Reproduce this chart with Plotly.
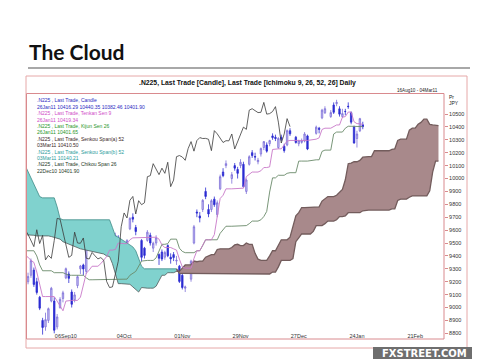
import pandas as pd
import plotly.graph_objects as go

# ---------------- data ----------------
holidays = ['2010-09-20', '2010-09-23', '2010-10-11', '2010-11-03', '2010-11-23',
            '2010-12-23', '2010-12-31', '2011-01-03', '2011-01-10']

opens = [9270, 9180, 9200, 9250, 9290, 9200, 9080, 8900, 8850, 8900,
         9050, 9050, 8850, 9000, 9070, 9230, 9260, 9120, 9060, 9170,
         9300, 9330, 9280, 9560, 9560, 9620, 9620, 9480, 9570, 9560,
         9530, 9540, 9380, 9420, 9400, 9610, 9700, 9620, 9520, 9460,
         9520, 9560, 9460, 9500, 9410, 9430, 9390, 9480, 9390, 9410,
         9360, 9320, 9250, 9150, 9220, 9500, 9740, 9710, 9760, 9900,
         9760, 9760, 9840, 9720, 9920, 10050, 10100, 10000, 10100, 10070,
         10100, 10110, 9900, 10110, 10200, 10170, 10130, 10190, 10240, 10260,
         10270, 10330, 10320, 10240, 10320, 10250, 10260, 10370, 10320, 10270,
         10280, 10290, 10330, 10350, 10390, 10470, 10510, 10480, 10570, 10580,
         10540, 10480, 10520, 10560, 10510, 10400, 10310, 10370, 10416]
highs = [9290, 9240, 9270, 9380, 9310, 9230, 9090, 8920, 8960, 9000,
         9160, 9080, 8950, 9080, 9130, 9310, 9280, 9140, 9120, 9250,
         9330, 9340, 9530, 9580, 9640, 9640, 9640, 9510, 9620, 9570,
         9580, 9560, 9420, 9440, 9530, 9700, 9730, 9640, 9530, 9470,
         9600, 9580, 9510, 9560, 9420, 9450, 9440, 9490, 9420, 9430,
         9400, 9330, 9260, 9170, 9370, 9640, 9760, 9740, 9840, 9930,
         9800, 9840, 9860, 9830, 10030, 10080, 10140, 10050, 10120, 10090,
         10150, 10130, 10000, 10180, 10220, 10200, 10160, 10240, 10290, 10280,
         10300, 10350, 10340, 10320, 10340, 10270, 10380, 10390, 10330, 10300,
         10310, 10360, 10340, 10410, 10400, 10540, 10560, 10530, 10590, 10610,
         10560, 10540, 10540, 10590, 10520, 10410, 10370, 10470, 10440]
lows = [9170, 9130, 9180, 9230, 9160, 9100, 8980, 8790, 8820, 8880,
        9040, 8800, 8830, 8990, 9040, 9220, 9190, 9000, 9040, 9150,
        9260, 9250, 9260, 9480, 9540, 9560, 9530, 9410, 9550, 9470,
        9500, 9360, 9350, 9360, 9380, 9600, 9660, 9560, 9360, 9380,
        9510, 9480, 9430, 9480, 9330, 9360, 9370, 9390, 9340, 9360,
        9330, 9190, 9140, 9120, 9200, 9490, 9700, 9660, 9740, 9840,
        9700, 9740, 9780, 9700, 9910, 10010, 10080, 9960, 10060, 10000,
        10080, 9930, 9880, 10100, 10160, 10140, 10110, 10170, 10220, 10200,
        10250, 10300, 10290, 10230, 10290, 10200, 10250, 10330, 10270, 10250,
        10270, 10280, 10220, 10340, 10350, 10460, 10500, 10470, 10500, 10560,
        10480, 10470, 10490, 10540, 10420, 10270, 10240, 10360, 10382]
closes = [9197, 9162, 9241, 9363, 9179, 9117, 8995, 8845, 8906, 8991,
          9149, 8824, 8927, 9063, 9114, 9301, 9226, 9025, 9098, 9239,
          9322, 9299, 9517, 9510, 9626, 9602, 9567, 9472, 9603, 9496,
          9559, 9369, 9404, 9381, 9519, 9691, 9685, 9589, 9389, 9404,
          9584, 9500, 9498, 9539, 9382, 9376, 9427, 9401, 9377, 9387,
          9366, 9202, 9155, 9160, 9359, 9626, 9733, 9694, 9831, 9861,
          9725, 9828, 9797, 9812, 10014, 10022, 10115, 10030, 10080, 10040,
          10126, 9937, 9988, 10169, 10178, 10167, 10141, 10232, 10286, 10212,
          10294, 10317, 10310, 10311, 10304, 10216, 10371, 10346, 10279, 10293,
          10292, 10345, 10229, 10398, 10381, 10530, 10541, 10511, 10513, 10590,
          10499, 10503, 10519, 10557, 10437, 10275, 10345, 10464, 10402]

tenkan = [9415, 9400, 9390, 9365, 9350, 9275, 9180, 9085, 9085, 9085,
          9085, 9085, 9050, 9010, 8975, 9050, 9055, 9055, 9055, 9055,
          9080, 9165, 9265, 9290, 9320, 9320, 9340, 9395, 9445, 9445,
          9450, 9500, 9495, 9495, 9495, 9525, 9540, 9540, 9540, 9540,
          9540, 9545, 9545, 9545, 9530, 9485, 9465, 9465, 9465, 9455,
          9445, 9375, 9315, 9305, 9305, 9380, 9440, 9440, 9480, 9525,
          9525, 9525, 9565, 9710, 9845, 9870, 9920, 9920, 9920, 9920,
          9925, 9925, 10015, 10030, 10050, 10050, 10050, 10060, 10085, 10085,
          10090, 10225, 10230, 10230, 10230, 10260, 10290, 10295, 10295, 10295,
          10295, 10295, 10295, 10305, 10315, 10380, 10390, 10390, 10405, 10415,
          10415, 10475, 10480, 10515, 10515, 10440, 10425, 10425, 10419]
kijun = [9440, 9440, 9440, 9440, 9440, 9400, 9330, 9285, 9285, 9285,
         9285, 9270, 9270, 9270, 9270, 9260, 9250, 9250, 9250, 9250,
         9250, 9250, 9230, 9215, 9215, 9215, 9215, 9215, 9215, 9215,
         9215, 9215, 9215, 9220, 9220, 9250, 9265, 9280, 9360, 9365,
         9365, 9365, 9365, 9385, 9440, 9490, 9490, 9495, 9530, 9530,
         9530, 9460, 9435, 9425, 9425, 9425, 9440, 9440, 9480, 9525,
         9525, 9525, 9525, 9525, 9575, 9600, 9630, 9630, 9630, 9630,
         9635, 9635, 9635, 9650, 9670, 9670, 9670, 9680, 9705, 9745,
         9895, 10005, 10005, 10025, 10025, 10025, 10040, 10045, 10045, 10135,
         10135, 10135, 10135, 10145, 10145, 10210, 10220, 10220, 10345, 10360,
         10360, 10360, 10390, 10405, 10405, 10405, 10405, 10405, 10402]

# Senkou spans, one value per weekday from 16Aug10 to 03Mar11
span_a = [9565, 9565, 9560, 9560, 9560, 9555, 9555, 9560, 9560, 9555, 9550, 9545,
          9540, 9530, 9510, 9500, 9490, 9480, 9470, 9460, 9455, 9450, 9445, 9440, 9430, 9425,
          9420, 9420, 9415, 9400, 9395, 9340, 9255, 9185, 9185, 9185, 9185, 9180, 9160, 9140,
          9120, 9155, 9150, 9150, 9150, 9150, 9165, 9210, 9250, 9250, 9270,
          9270, 9270, 9280, 9280, 9305, 9330, 9330, 9330, 9360, 9355, 9360, 9360, 9390, 9400,
          9410, 9410, 9450, 9455, 9455, 9455, 9455, 9465, 9485, 9490, 9480,
          9480, 9500, 9490, 9490, 9420, 9375, 9365, 9365, 9365, 9400, 9440, 9440, 9480, 9525,
          9525, 9525, 9545, 9620, 9710, 9735, 9775, 9775, 9775, 9775, 9775,
          9780, 9780, 9825, 9840, 9860, 9860, 9860, 9870, 9895, 9915, 9990, 10115, 10120,
          10130, 10130, 10140, 10165, 10170, 10170, 10170, 10215, 10215, 10215, 10215, 10215,
          10215, 10225, 10230, 10295, 10305, 10305, 10305, 10375, 10390, 10390, 10420, 10435,
          10460, 10460, 10420, 10415, 10415, 10410]
span_b = [10150, 10100, 10050, 10000, 9950, 9900, 9860, 9850, 9850, 9850, 9850, 9850, 9780, 9690,
          9680, 9680, 9680, 9680, 9680, 9680, 9680, 9680, 9680, 9680, 9680, 9680, 9680, 9680,
          9680, 9680, 9680,
          9620, 9555, 9545, 9530, 9515, 9500, 9485, 9470, 9440, 9380, 9320,
          9300, 9300, 9300, 9300, 9300, 9300, 9300, 9300, 9300, 9300, 9300, 9300,
          9265, 9265, 9265, 9265, 9265, 9265, 9265, 9265, 9265, 9265, 9265, 9265, 9265,
          9265, 9265, 9265, 9265, 9265, 9265, 9265, 9265, 9265, 9265, 9265, 9265, 9265,
          9260, 9260, 9260, 9260, 9260, 9260, 9275, 9275, 9315, 9365, 9365, 9365, 9365,
          9380, 9510, 9540, 9570, 9570, 9570, 9570, 9590, 9635, 9635, 9635, 9650, 9670,
          9670, 9670, 9680, 9705, 9705, 9710, 9735, 9735, 9735, 9735, 9735, 9750,
          9755, 9755, 9755, 9755, 9755, 9755, 9755, 9755, 9755, 9765, 9765, 9830,
          9840, 9840, 9840, 9855, 9865, 9865, 9865, 9865, 9865, 9865, 9905, 10050,
          10135, 10135]

tick_dates = ['2010-09-06', '2010-10-04', '2010-11-01', '2010-11-29',
              '2010-12-27', '2011-01-24', '2011-02-21']
tick_text = ['06Sep10', '04Oct', '01Nov', '29Nov', '27Dec', '24Jan', '21Feb']
price_ticks = [8800, 8900, 9000, 9100, 9200, 9300, 9400, 9500, 9600,
               9700, 9800, 9900, 10000, 10100, 10200, 10300, 10400, 10500]
price_labels = ['8800', '8900', '9000', '9100', '9200', '9300', '9400', '9500', '9600',
                '9700', '9800', '9900', '10000', '10100', '10200', '10300', '10400', '10500']

legend_lines = [
    ('.N225 , Last Trade, Candle', '#2b2bbf'),
    ('26Jan11 10416.29 10440.35 10382.46 10401.90', '#2b2bbf'),
    ('.N225 , Last Trade, Tenkan Sen 9', '#d04cc8'),
    ('26Jan11 10419.34', '#d04cc8'),
    ('.N225 , Last Trade, Kijun Sen 26', '#2a962a'),
    ('26Jan11 10401.65', '#2a962a'),
    ('.N225 , Last Trade, Senkou Span(a) 52', '#3a2626'),
    ('03Mar11 10410.50', '#3a2626'),
    ('.N225 , Last Trade, Senkou Span(b) 52', '#2a9c9c'),
    ('03Mar11 10140.21', '#2a9c9c'),
    ('.N225 , Last Trade, Chikou Span 26', '#1f3a1f'),
    ('22Dec10 10401.90', '#1f3a1f'),
]

# ---------------- x positions (weekday calendar) ----------------
trade_days = [d for d in pd.bdate_range('2010-08-16', '2011-01-26')
              if d.strftime('%Y-%m-%d') not in holidays]
cloud_days = list(pd.bdate_range('2010-08-16', periods=len(span_a)))
chikou_days = [d - pd.offsets.BDay(25) for d in trade_days]

# ---------------- figure ----------------
W, H = 480, 360
L, R, T, B = 18, 436, 86, 331


def px(x):
    return (x - L) / (R - L)


def py(y):
    return (B - y) / (B - T)


TEAL = 'rgb(128,210,206)'
BROWN = 'rgb(168,137,139)'
fig = go.Figure()

# teal part of the cloud (span b above span a)
n1 = 55
fig.add_trace(go.Scatter(x=cloud_days[:n1], y=span_a[:n1], mode='lines',
                         line=dict(color='#505a5a', width=0.8), hoverinfo='skip'))
fig.add_trace(go.Scatter(x=cloud_days[:n1], y=span_b[:n1], mode='lines',
                         line=dict(color='#3f8a86', width=0.8), fill='tonexty',
                         fillcolor=TEAL, hoverinfo='skip'))
# brown part of the cloud (span a above span b)
n0 = 53
fig.add_trace(go.Scatter(x=cloud_days[n0:], y=span_b[n0:], mode='lines',
                         line=dict(color='#735c5c', width=1.3), hoverinfo='skip'))
fig.add_trace(go.Scatter(x=cloud_days[n0:], y=span_a[n0:], mode='lines',
                         line=dict(color='#735c5c', width=1.3), fill='tonexty',
                         fillcolor=BROWN, hoverinfo='skip'))

# kijun, tenkan, chikou
fig.add_trace(go.Scatter(x=trade_days, y=kijun, mode='lines',
                         line=dict(color='#6a8a6a', width=0.9)))
fig.add_trace(go.Scatter(x=trade_days, y=tenkan, mode='lines',
                         line=dict(color='#c878c8', width=0.9)))
fig.add_trace(go.Scatter(x=chikou_days, y=closes, mode='lines',
                         line=dict(color='#3a3a3a', width=0.8)))

fig.add_trace(go.Candlestick(
    x=trade_days, open=opens, high=highs, low=lows, close=closes,
    increasing=dict(line=dict(color='#7e70d8', width=0.8), fillcolor='#cbc4f3'),
    decreasing=dict(line=dict(color='#2c2cd2', width=0.8), fillcolor='#2c2cd2'),
    whiskerwidth=0))

shapes = [
    # outer chart frame
    dict(type='rect', xref='paper', yref='paper', x0=px(18), x1=px(459), y0=py(340), y1=py(68),
         line=dict(color='#e6a8a8', width=1)),
    # plot area border
    dict(type='rect', xref='paper', yref='paper', x0=px(18.5), x1=px(436), y0=py(331), y1=py(85.5),
         line=dict(color='#d98a8e', width=1)),
    # rule under page title
    dict(type='line', xref='paper', yref='paper', x0=px(20), x1=px(462), y0=py(60), y1=py(60),
         line=dict(color='#a8a8a8', width=2)),
    # logo box
    dict(type='rect', xref='paper', yref='paper', x0=px(365), x1=px(468), y0=py(351), y1=py(339),
         fillcolor='#6e6e6e', line=dict(width=0)),
]

ann = [
    dict(text='<b>The Cloud</b>', x=px(19), y=py(44), xanchor='left', yanchor='middle',
         font=dict(family='Lato', size=21, color='#111111')),
    dict(text='<b>.N225, Last Trade [Candle], Last Trade [Ichimoku 9, 26, 52, 26] Daily</b>',
         x=px(239), y=py(75.5), xanchor='center', yanchor='middle',
         font=dict(family='Liberation Sans', size=6.8, color='#111111')),
    dict(text='16Aug10 - 04Mar11', x=px(432), y=py(82), xanchor='right', yanchor='middle',
         font=dict(family='Liberation Sans', size=4.6, color='#222222')),
    dict(text='Pr', x=px(439), y=py(88.5), xanchor='left', yanchor='middle',
         font=dict(family='Liberation Sans', size=5, color='#222222')),
    dict(text='JPY', x=px(439), y=py(95), xanchor='left', yanchor='middle',
         font=dict(family='Liberation Sans', size=5, color='#222222')),
    dict(text='<b>FXSTREET.COM</b>', x=px(416.5), y=py(345.2), xanchor='center', yanchor='middle',
         font=dict(family='DejaVu Sans', size=10, color='#ffffff')),
]
for j, (txt, col) in enumerate(legend_lines):
    ann.append(dict(text=txt, x=px(27), y=py(92.3 + j * 6.4), xanchor='left', yanchor='middle',
                    font=dict(family='Liberation Sans', size=5, color=col)))
for a in ann:
    a.update(xref='paper', yref='paper', showarrow=False)

fig.update_layout(
    width=W, height=H,
    margin=dict(l=L, r=W - R, t=T, b=H - B, pad=0),
    paper_bgcolor='white', plot_bgcolor='white',
    showlegend=False,
    shapes=shapes, annotations=ann,
    xaxis=dict(type='date', range=['2010-08-17 07:12', '2011-03-04 21:36'],
               rangebreaks=[dict(bounds=['sat', 'mon'])],
               rangeslider=dict(visible=False),
               tickvals=tick_dates, ticktext=tick_text, ticks='',
               ticklabelstandoff=-8,
               tickfont=dict(family='Liberation Sans', size=5.5, color='#333333'),
               showgrid=False, zeroline=False, showline=False),
    yaxis=dict(side='right', range=[8756, 10655], tickvals=price_ticks, ticktext=price_labels,
               ticks='outside', ticklen=3, tickcolor='#d98a8e',
               tickfont=dict(family='Liberation Sans', size=5.5, color='#333333'),
               showgrid=False, zeroline=False, showline=False),
)

fig.write_html('out.html')
